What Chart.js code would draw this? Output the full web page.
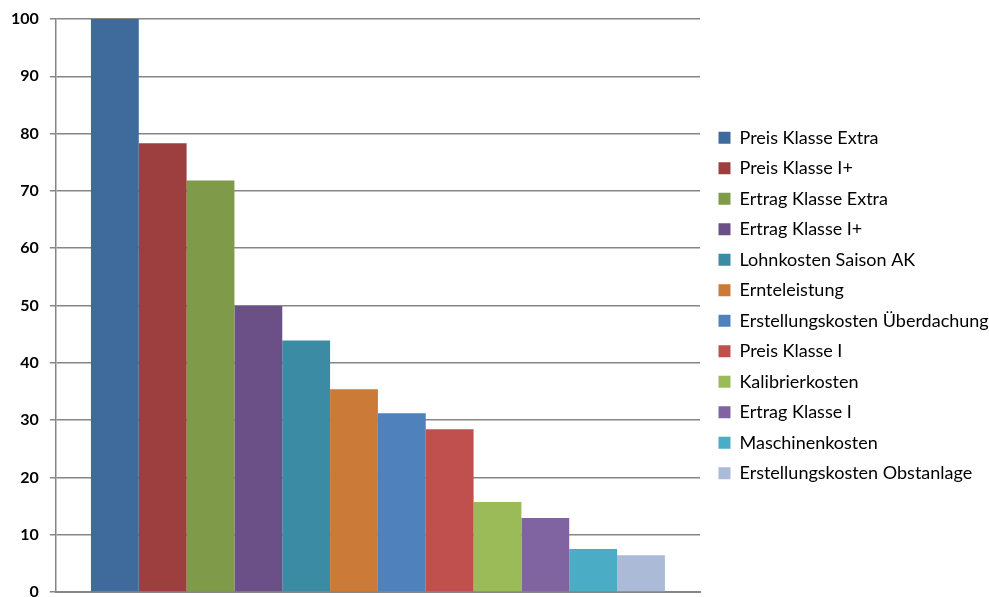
<!DOCTYPE html>
<html>
<head>
<meta charset="utf-8">
<script src="https://cdn.jsdelivr.net/npm/chart.js@4/dist/chart.umd.min.js"></script>
<style>
  html, body { margin: 0; padding: 0; background: #fff; }
  #wrap { width: 989px; height: 597px; }
</style>
</head>
<body>
<div id="wrap"><canvas id="chart" width="989" height="597"></canvas></div>
<script>
// Kennzahlen (eine Kategorie, eine Serie je Kennzahl)
const category = [''];
const seriesNames = [
  'Preis Klasse Extra',
  'Preis Klasse I+',
  'Ertrag Klasse Extra',
  'Ertrag Klasse I+',
  'Lohnkosten Saison AK',
  'Ernteleistung',
  'Erstellungskosten Überdachung',
  'Preis Klasse I',
  'Kalibrierkosten',
  'Ertrag Klasse I',
  'Maschinenkosten',
  'Erstellungskosten Obstanlage'
];
const seriesValues = [100, 78.3, 71.8, 49.9, 43.9, 35.4, 31.2, 28.4, 15.7, 12.9, 7.5, 6.4];
const yMin = 0;
const yMax = 100;
const yStep = 10;

// Farben der Balken
const seriesColors = [
  '#3F6A9C', '#9C3F3E', '#7F9A48', '#6A5087', '#3A8BA3', '#CC7A37',
  '#4F81BD', '#C0504D', '#9BBB59', '#8064A2', '#4BACC6', '#AABAD7'
];

const datasets = seriesNames.map((name, i) => ({
  label: name,
  data: [seriesValues[i]],
  backgroundColor: seriesColors[i],
  borderWidth: 0,
  barPercentage: 1,
  categoryPercentage: 0.891
}));

const gridColor = '#868686';

// Die Legende rechts soll nicht auf die halbe Breite begrenzt werden
const legendWidth = 289;
const legendShiftX = 6;
const legendFit = {
  id: 'legendFit',
  beforeLayout(chart) {
    const lg = chart.legend;
    if (lg && !lg._fixedWidth) {
      const origFit = lg.fit;
      lg.fit = function () {
        this.maxWidth = legendWidth;
        origFit.call(this);
        this.width = legendWidth;
      };
      lg._fixedWidth = true;
    }
  },
  afterLayout(chart) {
    const lg = chart.legend;
    if (lg) {
      lg.left += legendShiftX;
      lg.right += legendShiftX;
    }
  }
};

new Chart(document.getElementById('chart').getContext('2d'), {
  type: 'bar',
  data: { labels: category, datasets },
  plugins: [legendFit],
  options: {
    responsive: false,
    animation: false,
    layout: { padding: { top: 19, left: 0, right: 0, bottom: 5 } },
    plugins: {
      tooltip: { enabled: false },
      legend: {
        position: 'right',
        align: 'center',
        labels: {
          boxWidth: 12,
          boxHeight: 12,
          padding: 12.5,
          color: '#000',
          font: { family: 'Lato', size: 18 }
        }
      }
    },
    scales: {
      x: {
        grid: { display: false, drawTicks: false },
        border: { display: true, color: gridColor, width: 2 },
        ticks: { display: false }
      },
      y: {
        min: yMin,
        max: yMax,
        // Beschriftungen dürfen über den Plotbereich hinausragen
        afterFit(scale) {
          scale.paddingTop = 0;
          scale.paddingBottom = 0;
        },
        ticks: {
          stepSize: yStep,
          padding: 11,
          color: '#000',
          font: { family: 'Lato', size: 16, weight: 'bold' }
        },
        grid: { color: gridColor, lineWidth: 1.5, tickLength: 6, drawTicks: true },
        border: { display: true, color: gridColor, width: 1.5 }
      }
    }
  }
});
</script>
</body>
</html>
